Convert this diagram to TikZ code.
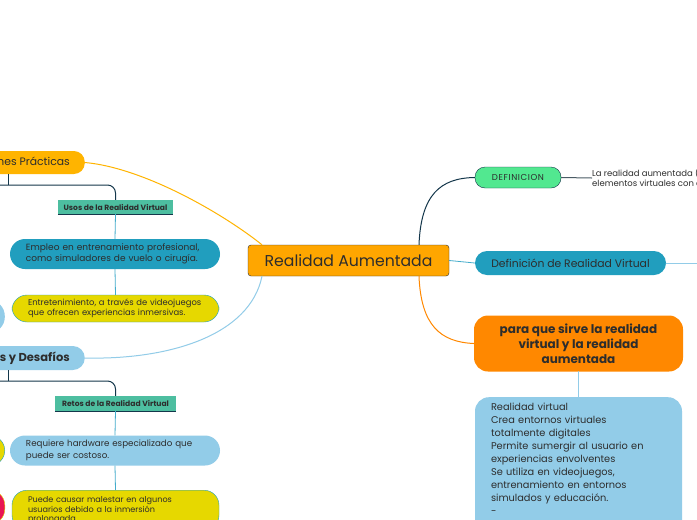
\documentclass[tikz,border=0pt]{standalone}
\usepackage{fontspec}
\setmainfont{Poppins}
\usepackage{xcolor}
\definecolor{Col1}{RGB}{255,166,0}
\definecolor{Col2}{RGB}{82,232,144}
\definecolor{Col3}{RGB}{33,158,190}
\definecolor{Col4}{RGB}{255,136,0}
\definecolor{Col5}{RGB}{146,204,232}
\definecolor{Col6}{RGB}{230,216,0}
\definecolor{Col7}{RGB}{77,190,160}
\definecolor{Col8}{RGB}{20,55,75}
\definecolor{Col9}{RGB}{255,180,0}
\definecolor{Col10}{RGB}{232,20,84}
\definecolor{ColT}{RGB}{45,45,45}
\usepackage{tikz}
\usetikzlibrary{shapes}
\tikzstyle{Box}=[rectangle,inner sep=0pt,text=ColT,align=left,
    rounded corners=13pt]
\tikzstyle{Leaf}=[Box,inner xsep=16pt,rounded corners=15pt]
\tikzstyle{Root}=[Box,draw=ColT,fill=Col1,rounded corners=3pt,
    minimum width=201pt,minimum height=31pt,font=\fontsize{15.7}{18}\selectfont]
\tikzstyle{Sub}=[rectangle,inner sep=0pt,text=ColT,
    font=\fontsize{7.6}{9}\selectfont\bfseries]
\tikzstyle{Note}=[inner sep=0pt,text=ColT,align=left,
    font=\fontsize{8.5}{10}\selectfont]
\tikzstyle{Edge}=[draw=Col5,line width=1pt,cap=round]
\tikzstyle{EdgeLink}=[draw=Col3!70!Col5,line width=0.8pt]
\tikzstyle{Bus}=[draw=Col8,line width=1pt]

\begin{document}
\begin{tikzpicture}[x=1pt,y=-1pt]
    \useasboundingbox (0,0) rectangle (697,520);
    \clip (0,0) rectangle (697,520);
    \fill[white] (0,0) rectangle (697,520);
    % centre and right side
    \node[Root](ra)at(348.5,260.5){Realidad Aumentada};
    \node[Box,draw=Col8,fill=Col2,rounded corners=10pt,minimum width=86pt,
        minimum height=21pt,
        font=\fontsize{8.6}{10}\selectfont\addfontfeatures{LetterSpace=7}](def)
        at(518,177.5){DEFINICION};
    \node[Note,anchor=west](deftxt)at(592,178)
        {La realidad aumentada (RA) combina\\
         elementos virtuales con el entorno real.};
    \node[Box,fill=Col3,rounded corners=12pt,minimum width=191pt,
        minimum height=24pt,font=\fontsize{10.8}{12}\selectfont](rv)
        at(570.5,263){Definición de Realidad Virtual};
    \node[Box,fill=Col4,rounded corners=14pt,minimum width=209pt,
        minimum height=56pt,align=center,
        font=\fontsize{12}{15}\selectfont\bfseries](para)
        at(578.5,343.5){para que sirve la realidad\\virtual y la realidad\\aumentada};
    \node[Box,fill=Col5,rounded corners=14pt,anchor=north,inner xsep=16pt,
        inner ysep=6pt,text width=175pt,font=\fontsize{9.8}{13}\selectfont](uso)
        at(578.5,397){Realidad virtual\\Crea entornos virtuales\\
        totalmente digitales\\Permite sumergir al usuario en\\
        experiencias envolventes\\Se utiliza en videojuegos,\\
        entrenamiento en entornos\\simulados y educación.\\
        -\rule[-40pt]{0pt}{0pt}};
    \coordinate(rvend)at(700,263);
    % left side
    \node[Box,fill=Col9,anchor=east,inner xsep=15pt,minimum height=23pt,
        rounded corners=11pt,font=\fontsize{10.8}{12}\selectfont](ap)
        at(85,162.5){Aplicaciones Prácticas};
    \node[Sub,fill=Col7,minimum width=115pt,minimum height=14pt](usos)
        at(115.5,207){Usos de la Realidad Virtual};
    \node[Leaf,fill=Col3,text width=178pt,minimum height=30pt,
        font=\fontsize{9}{11.5}\selectfont](emp)
        at(115,254){Empleo en entrenamiento profesional,\\
        como simuladores de vuelo o cirugía.};
    \node[Leaf,fill=Col6,draw=Col3,text width=175pt,minimum height=27pt,
        font=\fontsize{8.4}{10}\selectfont](ent)
        at(115.5,308.5){Entretenimiento, a través de videojuegos\\
        que ofrecen experiencias inmersivas.};
    \node[Box,fill=Col5,anchor=east,minimum width=60pt,minimum height=33pt,
        rounded corners=16pt](p1)at(5,316.5){};
    \node[Box,fill=Col5,anchor=east,inner xsep=15pt,minimum height=24pt,
        rounded corners=12pt,font=\fontsize{11.5}{13}\selectfont\bfseries](lim)
        at(85,358){Limitaciones y Desafíos};
    \node[Sub,fill=Col7,minimum width=121pt,minimum height=15pt](retos)
        at(115.5,403.5){Retos de la Realidad Virtual};
    \node[Leaf,fill=Col5,text width=178pt,minimum height=30pt,
        font=\fontsize{8.7}{11.5}\selectfont](req)
        at(115,450.5){Requiere hardware especializado que\\
        puede ser costoso.};
    \node[Leaf,fill=Col6,draw=Col3,anchor=north,text width=175pt,
        minimum height=40pt,font=\fontsize{8.1}{9.5}\selectfont](pue)
        at(115.5,490){Puede causar malestar en algunos\\
        usuarios debido a la inmersión\\prolongada.};
    \node[Box,fill=Col6,draw=Col3,anchor=east,minimum width=60pt,
        minimum height=30pt,rounded corners=15pt](p2)at(5,450.5){};
    \node[Box,fill=Col10,draw=Col6,anchor=north east,minimum width=60pt,
        minimum height=34pt,rounded corners=15pt](p3)at(5,490){};
    % connectors
    \draw[Bus](ra.north -| 419,0)..controls(421,195)and(440,178)..(def.west);
    \draw[draw=Col4,line width=1pt](ra.south -| 419,0)
        ..controls(421,325)and(440,342)..(para.west);
    \draw[EdgeLink](ra.east)--(rv.west);
    \draw[Edge](rv.east)--(rvend);
    \draw[draw=Col8!50!gray,line width=1pt](def.east)--(deftxt.west);
    \draw[Edge](para.south)--(uso.north);
    \draw[draw=Col9,line width=1pt](ap.east)
        ..controls(145,168)and(225,215)..(ra.north -| 262,0);
    \draw[Edge](lim.east)
        ..controls(170,360)and(250,335)..(ra.south -| 262,0);
    \draw[Bus](8,0 |- ap.south)--(8,185);
    \draw[Bus,rounded corners=8pt](-10,185)--(usos.north |- 0,185)--(usos.north);
    \draw[Bus](8,0 |- lim.south)--(8,381);
    \draw[Bus,rounded corners=8pt](-10,381)--(retos.north |- 0,381)--(retos.north);
    \draw[Col8,line width=0.8pt](usos.south west)--(usos.south east);
    \draw[Col8,line width=0.8pt](retos.south west)--(retos.south east);
    \draw[EdgeLink](usos.south)--(emp.north);
    \draw[EdgeLink](emp.south)--(ent.north);
    \draw[EdgeLink](retos.south)--(req.north);
    \draw[EdgeLink](req.south)--(pue.north);
\end{tikzpicture}
\end{document}
